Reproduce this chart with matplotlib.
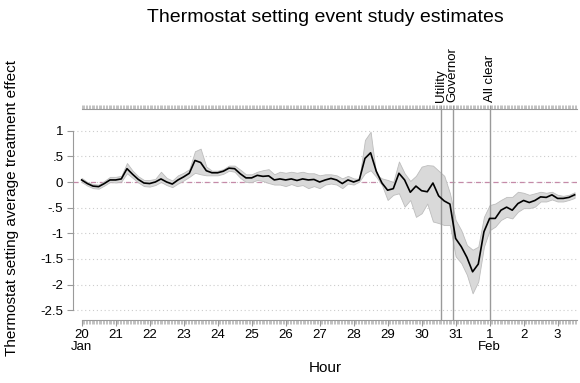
import numpy as np
import matplotlib
matplotlib.use("Agg")
import matplotlib.pyplot as plt

plt.rcParams['font.family'] = ['Liberation Sans', 'DejaVu Sans']

# hours since Jan 20 00:00, one estimate every 4 hours
hours = np.arange(0, 352, 4)

estimate = [
    0.04, -0.03, -0.08, -0.09, -0.03, 0.04, 0.04, 0.06, 0.26, 0.15,
    0.05, -0.02, -0.03, 0.00, 0.06, 0.00, -0.04, 0.04, 0.10, 0.17,
    0.42, 0.38, 0.22, 0.18, 0.18, 0.21, 0.27, 0.26, 0.16, 0.08,
    0.08, 0.13, 0.11, 0.12, 0.04, 0.06, 0.04, 0.06, 0.03, 0.06,
    0.04, 0.05, 0.00, 0.04, 0.07, 0.04, -0.03, 0.04, 0.00, 0.04,
    0.46, 0.57, 0.21, -0.02, -0.16, -0.13, 0.17, 0.04, -0.20, -0.08,
    -0.17, -0.19, -0.02, -0.27, -0.37, -0.43, -1.10, -1.26, -1.47, -1.75,
    -1.60, -0.97, -0.71, -0.71, -0.55, -0.49, -0.55, -0.42, -0.36, -0.40,
    -0.36, -0.29, -0.30, -0.25, -0.32, -0.32, -0.30, -0.25,
]
upper = [
    0.08, 0.00, -0.04, -0.05, 0.02, 0.10, 0.10, 0.12, 0.37, 0.22,
    0.11, 0.04, 0.04, 0.06, 0.20, 0.08, 0.03, 0.13, 0.18, 0.25,
    0.60, 0.65, 0.30, 0.22, 0.22, 0.25, 0.32, 0.32, 0.24, 0.15,
    0.15, 0.20, 0.23, 0.25, 0.15, 0.20, 0.18, 0.20, 0.18, 0.20,
    0.17, 0.17, 0.13, 0.15, 0.15, 0.13, 0.07, 0.12, 0.07, 0.06,
    0.82, 0.98, 0.14, 0.07, 0.04, 0.00, 0.40, 0.17, 0.02, 0.12,
    0.30, 0.33, 0.32, 0.22, 0.12, -0.22, -0.74, -0.94, -1.23, -1.32,
    -1.26, -0.68, -0.45, -0.42, -0.35, -0.29, -0.29, -0.19, -0.21, -0.25,
    -0.22, -0.19, -0.21, -0.19, -0.25, -0.27, -0.25, -0.20,
]
lower = [
    0.00, -0.07, -0.12, -0.13, -0.07, 0.00, -0.01, 0.01, 0.17, 0.08,
    -0.01, -0.08, -0.09, -0.06, 0.00, -0.06, -0.10, -0.03, 0.03, 0.10,
    0.18, 0.15, 0.13, 0.13, 0.13, 0.16, 0.22, 0.20, 0.08, 0.00,
    0.00, 0.04, 0.02, -0.02, -0.05, -0.05, -0.08, -0.04, -0.08, -0.06,
    -0.12, -0.08, -0.12, -0.05, -0.03, -0.05, -0.12, -0.03, -0.05, 0.01,
    0.17, 0.23, 0.10, -0.06, -0.35, -0.25, -0.22, -0.48, -0.35, -0.68,
    -0.61, -0.42, -0.77, -0.80, -0.84, -0.84, -1.45, -1.58, -1.81, -2.17,
    -1.94, -1.26, -0.94, -0.87, -0.74, -0.68, -0.71, -0.58, -0.51, -0.51,
    -0.48, -0.38, -0.38, -0.34, -0.38, -0.38, -0.35, -0.31,
]

day_ticks = np.arange(0, 15) * 24
day_labels = ["20\nJan", "21", "22", "23", "24", "25", "26", "27", "28",
              "29", "30", "31", "1\nFeb", "2", "3"]
yticks = [1, 0.5, 0, -0.5, -1, -1.5, -2, -2.5]
ylabels = ["1", ".5", "0", "-.5", "-1", "-1.5", "-2", "-2.5"]
event_hours = [254, 262, 288]
event_labels = ["Utility", "Governor", "All clear"]

W, H = 580, 383
fig = plt.figure(figsize=(W / 100, H / 100), dpi=100)
ax = fig.add_axes([73 / W, (H - 320) / H, (577 - 73) / W, (320 - 109) / H])
xmin, xmax = -6.1, 349.7
ax.set_xlim(xmin, xmax)
ax.set_ylim(-2.69, 1.423)

axis_grey = "#9a9a9a"
tick_grey = "#a8a8a8"

# horizontal grid and zero reference
for y in yticks:
    ax.axhline(y, color="#cccccc", lw=0.8, ls=(0, (1, 2.5)), zorder=0)
ax.axhline(0, color="#c58aa8", lw=0.9, ls=(0, (4, 3)), zorder=1)

ax.fill_between(hours, lower, upper, facecolor="#d9d9d9",
                edgecolor="#bdbdbd", lw=0.6, zorder=2)
ax.plot(hours, estimate, color="black", lw=1.2, zorder=4)

for h in event_hours:
    ax.axvline(h, color=axis_grey, lw=1.0, zorder=3)

for side in ("top", "right"):
    ax.spines[side].set_visible(False)
ax.spines["left"].set_bounds(-2.5, 1)
ax.spines["left"].set_color(axis_grey)
ax.spines["bottom"].set_bounds(0, xmax)
ax.spines["bottom"].set_color(axis_grey)

ax.set_yticks(yticks)
ax.set_yticklabels(ylabels)
ax.set_xticks(day_ticks)
ax.set_xticklabels(day_labels, linespacing=1.0)
ax.set_xticks(np.arange(0, xmax, 1), minor=True)
ax.tick_params(axis="y", length=4, color=axis_grey, labelsize=9.5, pad=3)
ax.tick_params(axis="x", which="major", length=4.5, color=axis_grey,
               labelsize=9.5, pad=2)
ax.tick_params(axis="x", which="minor", length=3, width=0.5, color=tick_grey)

# top axis carrying the event labels
top = ax.secondary_xaxis("top")
top.spines["top"].set_bounds(0, xmax)
top.spines["top"].set_color(axis_grey)
top.set_xticks(event_hours)
top.set_xticklabels(event_labels, rotation=90, va="bottom")
top.set_xticks(np.arange(0, xmax, 1), minor=True)
top.tick_params(axis="x", which="major", length=3, color=axis_grey,
                labelsize=9.5, pad=2)
top.tick_params(axis="x", which="minor", length=3, width=0.5, color=tick_grey)

cx = (73 + 577) / 2 / W
fig.text(cx, 1 - 18 / H, "Thermostat setting event study estimates",
         ha="center", va="center", fontsize=14)
fig.text(cx, 1 - 368 / H, "Hour", ha="center", va="center", fontsize=11)
fig.text(12 / W, 1 - 208 / H, "Thermostat setting average treatment effect",
         ha="center", va="center", rotation=90, fontsize=11)

fig.savefig("out.png", dpi=100)
